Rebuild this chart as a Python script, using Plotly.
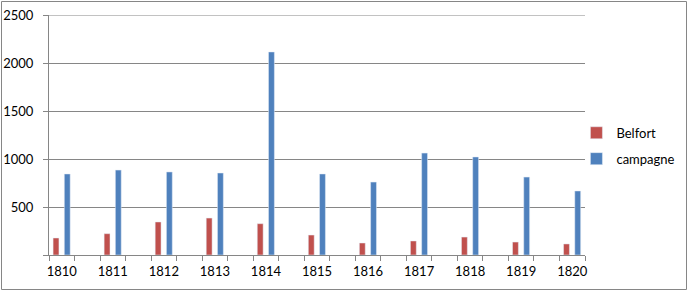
import plotly.graph_objects as go

years = [1810, 1811, 1812, 1813, 1814, 1815, 1816, 1817, 1818, 1819, 1820]
belfort = [177, 222, 344, 385, 326, 208, 125, 146, 187, 135, 115]
campagne = [844, 885, 865, 854, 2115, 844, 760, 1062, 1021, 812, 667]
y_ticks = [0, 500, 1000, 1500, 2000, 2500]
y_labels = ["", "500", "1000", "1500", "2000", "2500"]

W, H = 688, 291
L, R, T, B = 49, 103, 15, 36
pw, ph = W - L - R, H - T - B

fig = go.Figure()
fig.add_trace(go.Bar(x=years, y=belfort, name="Belfort", marker_color="#C0504D",
                     width=0.115, offset=-0.17, legendgroup="a"))
fig.add_trace(go.Bar(x=years, y=campagne, name="campagne", marker_color="#4F81BD",
                     width=0.115, offset=0.05, legendgroup="b"))

fig.update_layout(
    width=W, height=H,
    margin=dict(l=L, r=R, t=T, b=B, autoexpand=False),
    paper_bgcolor="white", plot_bgcolor="white",
    font=dict(family="Lato, Carlito, Calibri, sans-serif", size=13, color="black"),
    barmode="overlay",
    showlegend=True,
    legend=dict(x=0.984, y=0.455, xanchor="left", yanchor="middle",
                tracegroupgap=6, font=dict(size=13), bgcolor="rgba(0,0,0,0)"),
    xaxis=dict(range=[1809.75, 1820.25], tickvals=years, ticktext=[str(y) for y in years],
               ticks="", showgrid=False, showline=True, linecolor="#868686", linewidth=1,
               minor=dict(tick0=1809.75, dtick=0.5, ticks="outside", ticklen=5,
                          tickcolor="#868686", showgrid=False),
               ticklabelstandoff=4, zeroline=False, automargin=False),
    yaxis=dict(range=[0, 2500], tickvals=y_ticks, ticktext=y_labels,
               ticks="outside", ticklen=5, tickcolor="#868686",
               showgrid=True, gridcolor="#868686", gridwidth=1,
               showline=True, linecolor="#868686", linewidth=1, zeroline=False,
               ticklabelstandoff=7, automargin=False),
)

# top gridline at the range end (plotly clips end gridlines)
fig.add_shape(type="line", xref="paper", yref="y", x0=0, x1=1, y0=y_ticks[-1], y1=y_ticks[-1],
              line=dict(color="#868686", width=1), layer="below")

fig.add_shape(type="rect", xref="paper", yref="paper",
              x0=(1.5 - L) / pw, x1=(686.5 - L) / pw,
              y0=(255 - 289.5) / ph, y1=(255 - 1.5) / ph,
              line=dict(color="#868686", width=1), fillcolor="rgba(0,0,0,0)", layer="below")

fig.write_html("out.html")
